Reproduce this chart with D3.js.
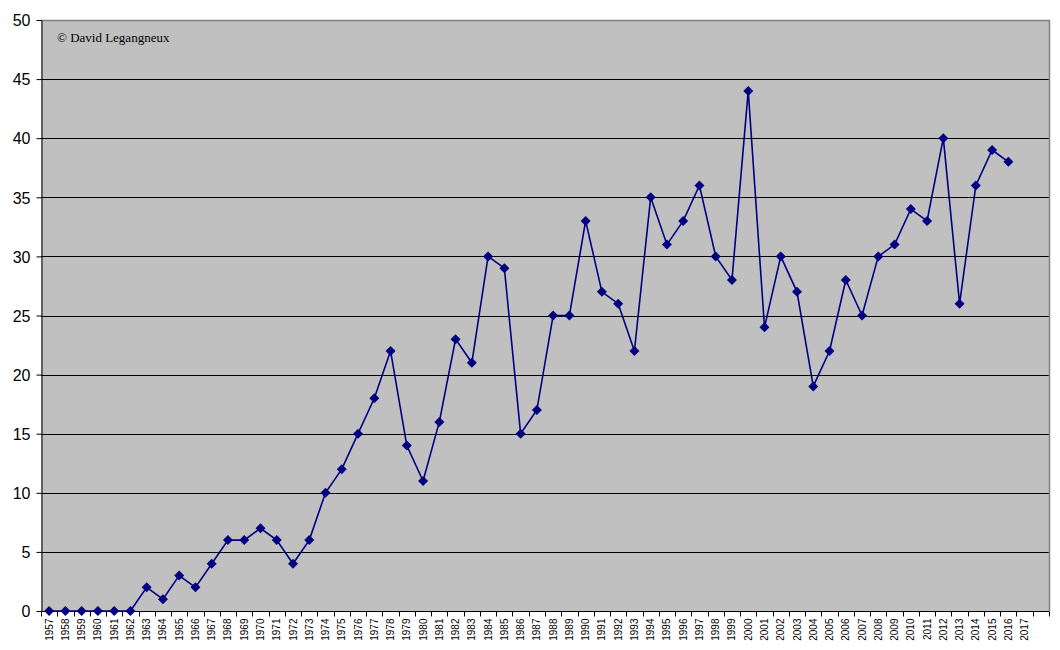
<!DOCTYPE html>
<html><head><meta charset="utf-8">
<script src="https://cdn.jsdelivr.net/npm/d3@7"></script>
<style>body{margin:0;background:#fff;}svg{display:block;}</style>
</head><body>
<svg id="c" width="1060" height="650"></svg>
<script>
const years = d3.range(1957, 2019).map(String); // 1957..2018 (last band unlabeled)
const tickLabels = d3.range(1957, 2018).map(String);
const values = [0,0,0,0,0,0,2,1,3,2,4,6,6,7,6,4,6,10,12,15,18,22,14,11,16,23,21,30,29,15,17,25,25,33,27,26,22,35,31,33,36,30,28,44,24,30,27,19,22,28,25,30,31,34,33,40,26,36,39,38];
const yTicks = d3.range(0, 51, 5);

const svg = d3.select("#c");
const L = 41, R = 1049, T = 20, B = 611;
const x = d3.scaleBand().domain(years).range([L, R]).paddingInner(0).paddingOuter(0);
const y = d3.scaleLinear().domain([0, 50]).range([B, T]);

svg.append("rect").attr("x", L).attr("y", T).attr("width", R - L).attr("height", B - T).attr("fill", "#c0c0c0");

// gridlines
svg.append("g").selectAll("line").data(yTicks.slice(1)).join("line")
  .attr("x1", L).attr("x2", R).attr("y1", d => Math.round(y(d)) + 0.5).attr("y2", d => Math.round(y(d)) + 0.5)
  .attr("stroke", "#000").attr("stroke-width", 1);

// plot border top/right
svg.append("path").attr("d", `M${L},${T + 0.5}H${R + 0.5}V${B}`).attr("fill", "none").attr("stroke", "#808080").attr("stroke-width", 1.5);

// y axis
const ya = svg.append("g").attr("transform", `translate(${L + 0.5},0)`)
  .call(d3.axisLeft(y).tickValues(yTicks).tickSize(5).tickPadding(6).tickSizeOuter(0));
ya.select(".domain").attr("stroke", "#000");
ya.selectAll("text").attr("font-family", "Liberation Sans, Arial, sans-serif").attr("font-size", 16).attr("fill", "#000").attr("dy", "0.36em");

// x axis with ticks at band boundaries
const xa = svg.append("g").attr("transform", `translate(0,${B + 0.5})`);
xa.append("line").attr("x1", L).attr("x2", R).attr("stroke", "#000");
xa.selectAll("line.t").data(years.concat(["end"])).join("line").attr("class", "t")
  .attr("x1", (d, i) => Math.round(L + i * x.step()) + 0.5).attr("x2", (d, i) => Math.round(L + i * x.step()) + 0.5)
  .attr("y1", 0).attr("y2", 5).attr("stroke", "#000");
xa.selectAll("text").data(tickLabels).join("text")
  .attr("transform", d => `translate(${x(d) + x.bandwidth() / 2 + 3.5},7) rotate(-90)`)
  .attr("text-anchor", "end")
  .attr("font-family", "Liberation Sans, Arial, sans-serif").attr("font-size", 10).attr("fill", "#000")
  .text(d => d);

// line
const pts = values.map((v, i) => ({ yr: years[i], v }));
const cx = d => x(d.yr) + x.bandwidth() / 2;
svg.append("path").datum(pts)
  .attr("d", d3.line().x(cx).y(d => y(d.v)))
  .attr("fill", "none").attr("stroke", "#000080").attr("stroke-width", 1.6);

svg.append("g").selectAll("path").data(pts).join("path")
  .attr("transform", d => `translate(${cx(d)},${y(d.v)})`)
  .attr("d", "M0,-5L5,0L0,5L-5,0Z")
  .attr("fill", "#000080");

svg.append("text").attr("x", 57).attr("y", 42)
  .attr("font-family", "Liberation Serif, Times New Roman, serif").attr("font-size", 13).attr("fill", "#000")
  .text("© David Legangneux");
</script>
</body></html>
